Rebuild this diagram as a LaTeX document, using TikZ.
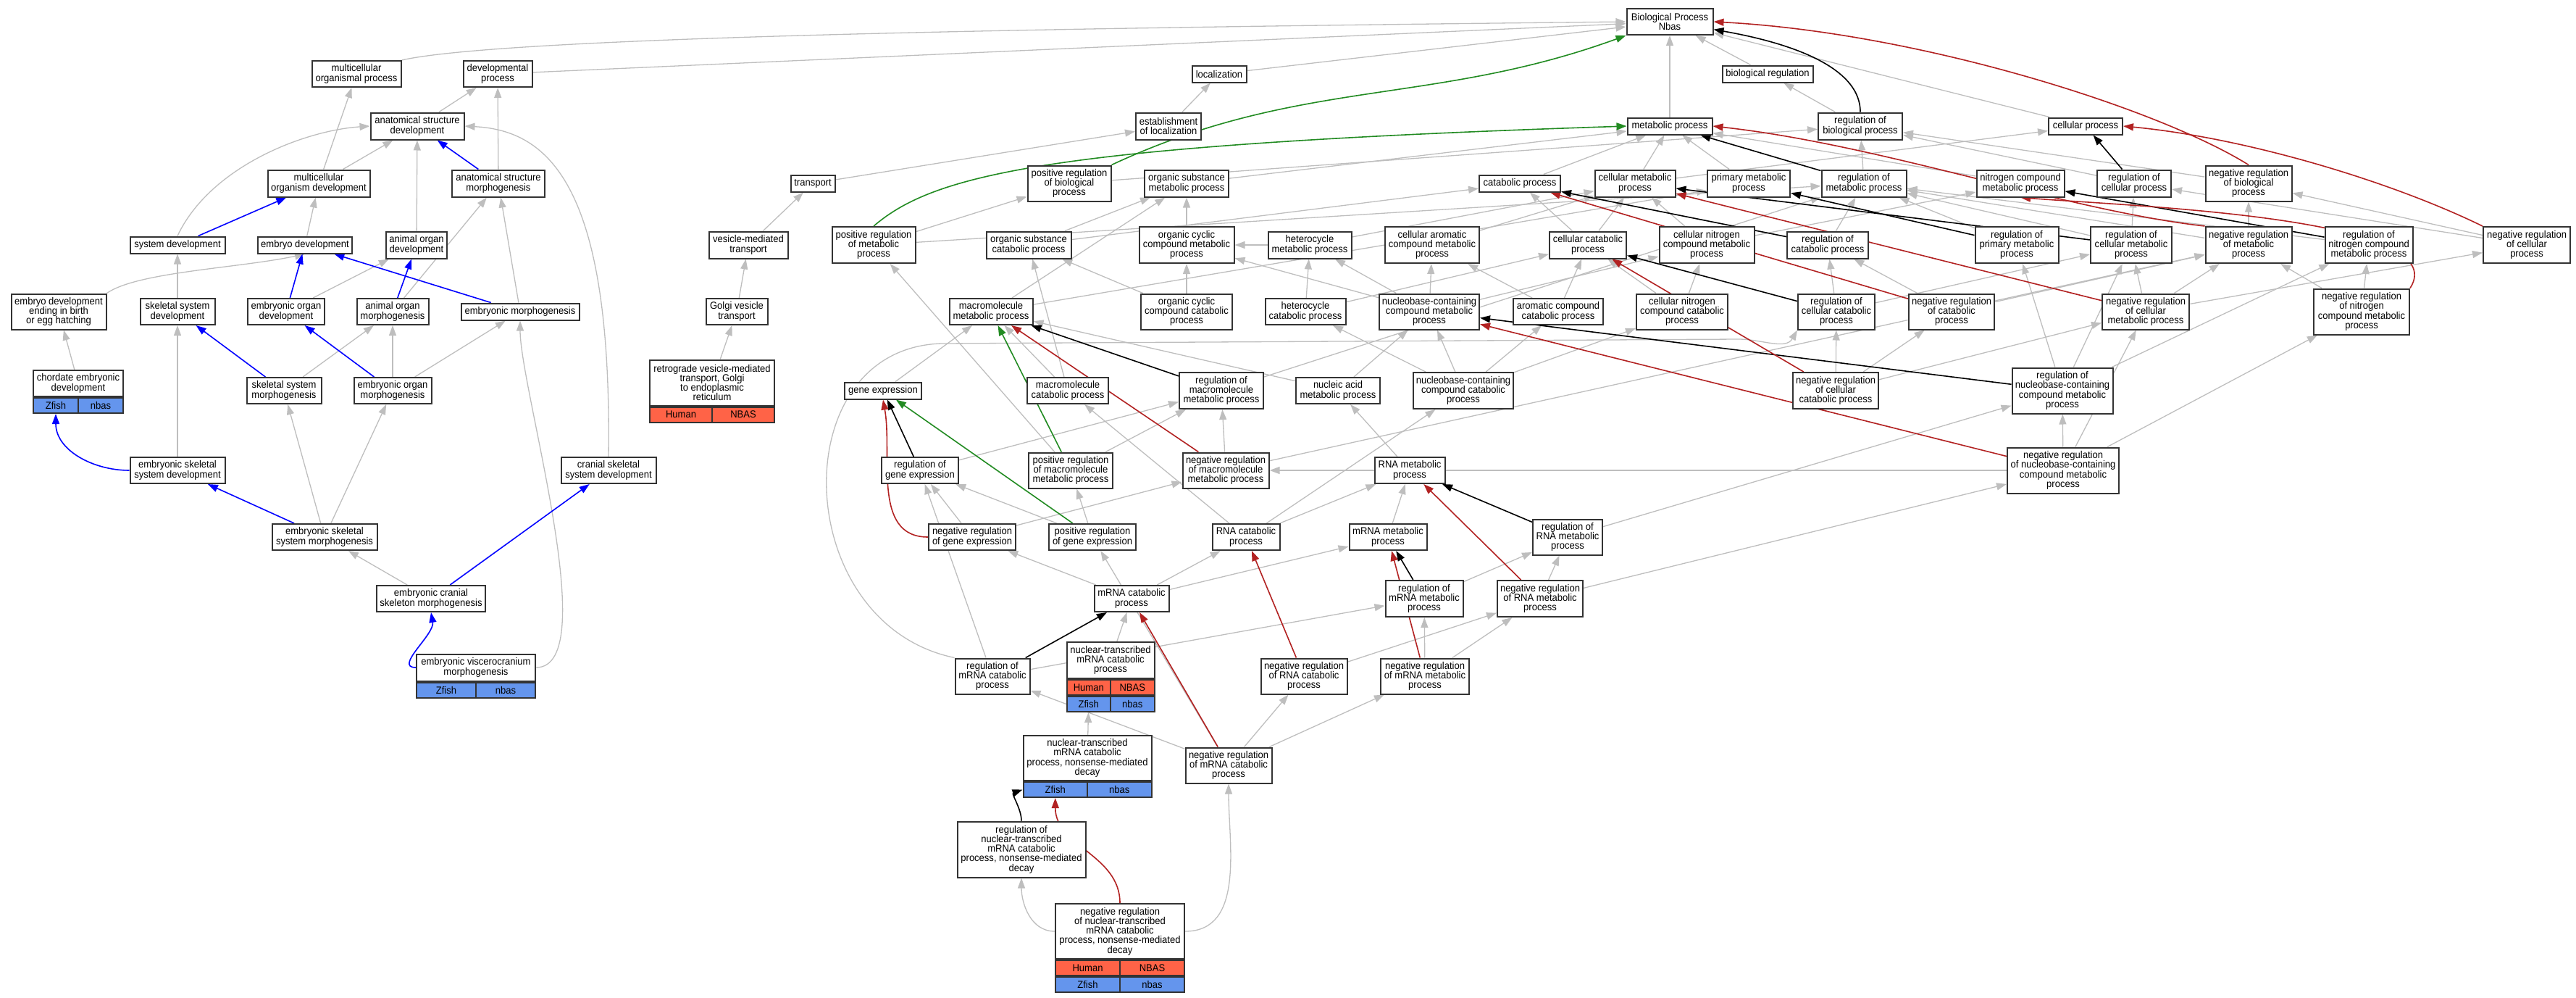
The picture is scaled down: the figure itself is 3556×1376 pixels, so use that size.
\documentclass[tikz,border=0pt]{standalone}
\usepackage{fontspec}
\setmainfont{Liberation Sans}[FakeStretch=0.93]
\usetikzlibrary{arrows.meta,positioning,backgrounds}
\definecolor{isagray}{RGB}{190,190,190}
\definecolor{negred}{RGB}{178,34,34}
\definecolor{posgreen}{RGB}{34,139,34}
\definecolor{humanred}{RGB}{255,99,71}
\definecolor{zfishblue}{RGB}{100,149,237}

\begin{document}
\begin{tikzpicture}[x=1pt,y=-1pt,
    >={Triangle[length=14pt,width=10pt]},
    every node/.style={font=\fontsize{14}{13.3}\selectfont},
    term/.style 2 args={draw=black!80, line width=2pt, fill=white, align=center,
      inner sep=0pt, minimum width=#1, minimum height=#2},
    hcell/.style={draw=black!80, line width=2pt, fill=humanred, inner sep=0pt,
      minimum width=#1, minimum height=21},
    zcell/.style={draw=black!80, line width=2pt, fill=zfishblue, inner sep=0pt,
      minimum width=#1, minimum height=21},
    isa/.style={->, draw=isagray, line width=1.3pt},
    partof/.style={->, draw=blue, line width=1.6pt},
    reg/.style={->, draw=black, line width=1.6pt},
    posreg/.style={->, draw=posgreen, line width=1.6pt},
    negreg/.style={->, draw=negred, line width=1.6pt}]
  \useasboundingbox (0,0) rectangle (3556,1376);

  % development branch
  \node[term={123}{36}] (mop) at (492,102) {multicellular\\organismal process};
  \node[term={95}{36}] (devp) at (687,102) {developmental\\process};
  \node[term={129}{37}] (asd) at (576,174) {anatomical structure\\development};
  \node[term={141}{37}] (mod) at (440,253) {multicellular\\organism development};
  \node[term={128}{37}] (asm) at (688,253) {anatomical structure\\morphogenesis};
  \node[term={131}{23}] (sysd) at (245,338) {system development};
  \node[term={130}{23}] (embd) at (421,338) {embryo development};
  \node[term={84}{37}] (aod) at (575,338) {animal organ\\development};
  \node[term={131}{49}] (edeb) at (81,430) {embryo development\\ending in birth\\or egg hatching};
  \node[term={103}{36}] (ssd) at (245,430) {skeletal system\\development};
  \node[term={106}{36}] (eod) at (395,430) {embryonic organ\\development};
  \node[term={99}{36}] (aom) at (542,430) {animal organ\\morphogenesis};
  \node[term={163}{23}] (emm) at (718,430) {embryonic morphogenesis};
  \node[term={124}{36}] (ced) at (108,529) {chordate embryonic\\development};
  \node[zcell=62, anchor=north west] (cedZ) at (ced.south west) {Zfish};
  \node[zcell=62, anchor=north east] (cedN) at (ced.south east) {nbas};
  \node[term={103}{36}] (ssm) at (392,539) {skeletal system\\morphogenesis};
  \node[term={107}{36}] (eom) at (542,539) {embryonic organ\\morphogenesis};
  \node[term={131}{36}] (essd) at (245,649) {embryonic skeletal\\system development};
  \node[term={131}{36}] (cssd) at (840,649) {cranial skeletal\\system development};
  \node[term={145}{36}] (essm) at (448,741) {embryonic skeletal\\system morphogenesis};
  \node[term={150}{36}] (ecsm) at (595,826) {embryonic cranial\\skeleton morphogenesis};
  \node[term={164}{37}] (evm) at (657,921) {embryonic viscerocranium\\morphogenesis};
  \node[zcell=82, anchor=north west] (evmZ) at (evm.south west) {Zfish};
  \node[zcell=82, anchor=north east] (evmN) at (evm.south east) {nbas};

  % transport branch
  \node[term={75}{23}] (loc) at (1683,102) {localization};
  \node[term={90}{37}] (eol) at (1613,174) {establishment\\of localization};
  \node[term={61}{23}] (trn) at (1122,253) {transport};
  \node[term={109}{37}] (vmt) at (1033,338) {vesicle-mediated\\transport};
  \node[term={85}{36}] (gvt) at (1017,430) {Golgi vesicle\\transport};
  \node[term={172}{63}] (rvt) at (983,528) {retrograde vesicle-mediated\\transport, Golgi\\to endoplasmic\\reticulum};
  \node[hcell=86, anchor=north west] (rvtH) at (rvt.south west) {Human};
  \node[hcell=86, anchor=north east] (rvtN) at (rvt.south east) {NBAS};

  % metabolic branch
  \node[term={119}{36}] (bp) at (2305,30) {Biological Process\\Nbas};
  \node[term={125}{23}] (breg) at (2440,102) {biological regulation};
  \node[term={117}{23}] (mp) at (2305,174) {metabolic process};
  \node[term={116}{37}] (rbp) at (2568,174) {regulation of\\biological process};
  \node[term={102}{23}] (cellp) at (2879,174) {cellular process};
  \node[term={115}{49}] (prbp) at (1476,253) {positive regulation\\of biological\\process};
  \node[term={116}{37}] (osmp) at (1638,253) {organic substance\\metabolic process};
  \node[term={112}{23}] (cp) at (2098,253) {catabolic process};
  \node[term={111}{37}] (cmp) at (2257,253) {cellular metabolic\\process};
  \node[term={114}{37}] (pmp) at (2414,253) {primary metabolic\\process};
  \node[term={117}{37}] (rmp) at (2573,253) {regulation of\\metabolic process};
  \node[term={121}{37}] (nitcmp) at (2789,253) {nitrogen compound\\metabolic process};
  \node[term={102}{37}] (rcellp) at (2946,253) {regulation of\\cellular process};
  \node[term={119}{49}] (nrbp) at (3104,253) {negative regulation\\of biological\\process};
  \node[term={115}{50}] (prmp) at (1206,338) {positive regulation\\of metabolic\\process};
  \node[term={117}{37}] (oscp) at (1420,338) {organic substance\\catabolic process};
  \node[term={131}{50}] (occmp) at (1638,338) {organic cyclic\\compound metabolic\\process};
  \node[term={115}{37}] (hmp) at (1808,338) {heterocycle\\metabolic process};
  \node[term={130}{50}] (cacmp) at (1977,338) {cellular aromatic\\compound metabolic\\process};
  \node[term={106}{37}] (ccp) at (2192,338) {cellular catabolic\\process};
  \node[term={131}{50}] (cncmp) at (2356,338) {cellular nitrogen\\compound metabolic\\process};
  \node[term={112}{37}] (rcp) at (2523,338) {regulation of\\catabolic process};
  \node[term={115}{50}] (rpmp) at (2784,338) {regulation of\\primary metabolic\\process};
  \node[term={112}{50}] (rcmp) at (2942,338) {regulation of\\cellular metabolic\\process};
  \node[term={119}{50}] (nrmp) at (3104,338) {negative regulation\\of metabolic\\process};
  \node[term={121}{50}] (rncmp) at (3270,338) {regulation of\\nitrogen compound\\metabolic process};
  \node[term={120}{50}] (nrcp) at (3488,338) {negative regulation\\of cellular\\process};
  \node[term={115}{36}] (mmp) at (1368,430) {macromolecule\\metabolic process};
  \node[term={126}{49}] (occcp) at (1638,430) {organic cyclic\\compound catabolic\\process};
  \node[term={111}{36}] (hcp) at (1802,430) {heterocycle\\catabolic process};
  \node[term={138}{49}] (ncmp) at (1973,430) {nucleobase-containing\\compound metabolic\\process};
  \node[term={124}{36}] (accp) at (2151,430) {aromatic compound\\catabolic process};
  \node[term={126}{49}] (cnccp) at (2322,430) {cellular nitrogen\\compound catabolic\\process};
  \node[term={106}{49}] (rccp) at (2535,430) {regulation of\\cellular catabolic\\process};
  \node[term={118}{49}] (nrcatp) at (2694,430) {negative regulation\\of catabolic\\process};
  \node[term={120}{49}] (nrcmp) at (2962,430) {negative regulation\\of cellular\\metabolic process};
  \node[term={132}{63}] (nrncmp) at (3260,430) {negative regulation\\of nitrogen\\compound metabolic\\process};
  \node[term={106}{23}] (gexp) at (1219,539) {gene expression};
  \node[term={112}{36}] (mcp) at (1474,539) {macromolecule\\catabolic process};
  \node[term={116}{50}] (rmmp) at (1686,539) {regulation of\\macromolecule\\metabolic process};
  \node[term={116}{36}] (namp) at (1847,539) {nucleic acid\\metabolic process};
  \node[term={138}{50}] (nccp) at (2020,539) {nucleobase-containing\\compound catabolic\\process};
  \node[term={118}{50}] (nrccp) at (2534,539) {negative regulation\\of cellular\\catabolic process};
  \node[term={139}{63}] (rnccmp) at (2847,539) {regulation of\\nucleobase-containing\\compound metabolic\\process};
  \node[term={106}{36}] (rge) at (1270,649) {regulation of\\gene expression};
  \node[term={116}{49}] (prmmp) at (1478,649) {positive regulation\\of macromolecule\\metabolic process};
  \node[term={119}{49}] (nrmmp) at (1692,649) {negative regulation\\of macromolecule\\metabolic process};
  \node[term={97}{36}] (rnamp) at (1946,649) {RNA metabolic\\process};
  \node[term={154}{63}] (nrnccmp) at (2848,649) {negative regulation\\of nucleobase-containing\\compound metabolic\\process};
  \node[term={120}{36}] (nrge) at (1342,741) {negative regulation\\of gene expression};
  \node[term={120}{36}] (prge) at (1508,741) {positive regulation\\of gene expression};
  \node[term={93}{36}] (rnacp) at (1720,741) {RNA catabolic\\process};
  \node[term={107}{36}] (mrnamp) at (1916,741) {mRNA metabolic\\process};
  \node[term={96}{49}] (rrnamp) at (2164,741) {regulation of\\RNA metabolic\\process};
  \node[term={103}{36}] (mrnacp) at (1562,826) {mRNA catabolic\\process};
  \node[term={107}{50}] (rmrnamp) at (1966,826) {regulation of\\mRNA metabolic\\process};
  \node[term={118}{50}] (nrrnamp) at (2126,826) {negative regulation\\of RNA metabolic\\process};
  \node[term={121}{50}] (ntmcp) at (1533,911) {nuclear-transcribed\\mRNA catabolic\\process};
  \node[hcell=60.5, anchor=north west] (ntmcpH) at (ntmcp.south west) {Human};
  \node[hcell=60.5, anchor=north east] (ntmcpN) at (ntmcp.south east) {NBAS};
  \node[zcell=60.5, anchor=north west] (ntmcpZ) at (ntmcpH.south west) {Zfish};
  \node[zcell=60.5, anchor=north east] (ntmcpB) at (ntmcpN.south east) {nbas};
  \node[term={103}{49}] (rmcp) at (1370,933) {regulation of\\mRNA catabolic\\process};
  \node[term={119}{49}] (nrrcp) at (1800,933) {negative regulation\\of RNA catabolic\\process};
  \node[term={122}{49}] (nrmrnamp) at (1967,933) {negative regulation\\of mRNA metabolic\\process};
  \node[term={177}{62}] (nmd) at (1501,1046) {nuclear-transcribed\\mRNA catabolic\\process, nonsense-mediated\\decay};
  \node[zcell=88.5, anchor=north west] (nmdZ) at (nmd.south west) {Zfish};
  \node[zcell=88.5, anchor=north east] (nmdN) at (nmd.south east) {nbas};
  \node[term={119}{49}] (nrmcp) at (1696,1056) {negative regulation\\of mRNA catabolic\\process};
  \node[term={177}{77}] (rnmd) at (1410,1172) {regulation of\\nuclear-transcribed\\mRNA catabolic\\process, nonsense-mediated\\decay};
  \node[term={178}{76}] (nrnmd) at (1546,1285) {negative regulation\\of nuclear-transcribed\\mRNA catabolic\\process, nonsense-mediated\\decay};
  \node[hcell=89, anchor=north west] (nrnmdH) at (nrnmd.south west) {Human};
  \node[hcell=89, anchor=north east] (nrnmdN) at (nrnmd.south east) {NBAS};
  \node[zcell=89, anchor=north west] (nrnmdZ) at (nrnmdH.south west) {Zfish};
  \node[zcell=89, anchor=north east] (nrnmdB) at (nrnmdN.south east) {nbas};

  \begin{scope}[on background layer]
    % is_a
    \foreach \a/\b in {ssd/sysd, eod/aod, aom/asm, ced/edeb, ssm/aom, eom/aom, eom/emm,
        essd/ssd, essm/ssm, essm/eom, ecsm/essm, embd/mod, mod/mop, mod/asd, asm/devp,
        asd/devp, aod/asd, emm/asm, devp/bp,
        loc/bp, eol/loc, trn/eol, vmt/trn, gvt/vmt, rvt/gvt,
        mp/bp, breg/bp, cellp/bp, rbp/breg, prbp/rbp, nrbp/rbp, osmp/mp, cp/mp, cmp/mp,
        cmp/cellp, pmp/mp, nitcmp/mp, rmp/rbp, rcellp/rbp, prmp/rmp, prmp/prbp,
        oscp/osmp, oscp/cp, occmp/osmp, hmp/cmp, hmp/occmp, cacmp/cmp, ccp/cp, ccp/cmp,
        cncmp/cmp, cncmp/nitcmp, rcp/rmp, rpmp/rmp, rcmp/rmp, rcmp/rcellp, nrmp/rmp,
        nrmp/nrbp, rncmp/rmp, nrcp/rcellp, nrcp/nrbp,
        mmp/osmp, mmp/pmp, occcp/occmp, occcp/oscp, hcp/hmp, hcp/ccp, ncmp/hmp,
        ncmp/cacmp, ncmp/cncmp, ncmp/occmp, accp/cacmp, accp/ccp, cnccp/cncmp, cnccp/ccp,
        rccp/rcp, rccp/rcmp, nrcatp/rcp, nrcatp/nrmp, nrcmp/rcmp, nrcmp/nrmp, nrcmp/nrcp,
        nrncmp/rncmp, nrncmp/nrmp,
        gexp/mmp, mcp/mmp, mcp/oscp, rmmp/rmp, namp/ncmp, namp/mmp, nccp/ncmp, nccp/accp,
        nccp/cnccp, nccp/hcp, rnccmp/rpmp, rnccmp/rcmp, rnccmp/rncmp, nrccp/rccp,
        nrccp/nrcatp, nrccp/nrcmp,
        rge/rmmp, prmmp/rmmp, prmmp/prmp, nrmmp/rmmp, nrmmp/nrmp, rnamp/namp,
        nrnccmp/rnccmp, nrnccmp/nrncmp, nrnccmp/nrcmp, nrnccmp/nrmmp,
        nrge/rge, nrge/nrmmp, prge/rge, prge/prmmp, rnacp/rnamp, rnacp/mcp, rnacp/nccp,
        mrnamp/rnamp, rrnamp/rnccmp, mrnacp/rnacp, mrnacp/mrnamp, mrnacp/nrge,
        rmrnamp/rrnamp, nrrnamp/rrnamp, nrrnamp/nrnccmp, ntmcp/mrnacp, rmcp/rge,
        rmcp/rmrnamp, nrrcp/nrrnamp, nrmrnamp/rmrnamp, nrmrnamp/nrrnamp,
        nrmcp/rmcp, nrmcp/nrrcp, nrmcp/nrmrnamp, nrmcp/prge, nmd/ntmcpZ}
      \draw[isa] (\a) -- (\b);
    \draw[isa] (mop.north east) .. controls (700,50) and (1500,38) .. (bp.west);
    \draw[isa] (edeb.north east) .. controls (190,375) and (330,370) .. (embd.south);
    \draw[isa] (sysd.north) .. controls (290,230) and (420,180) .. (asd.west);
    \draw[isa] (cssd.north) .. controls (845,260) and (760,180) .. (asd.east);
    \draw[isa] (evm.east) to[out=0,in=-90,looseness=0.5] (emm.south);
    \draw[isa] (rmcp.north west) .. controls (1090,860) and (1080,480) .. (1300,474)
      -- (2400,468) to[out=0,in=240] (rccp.south west);
    \draw[isa] (nrnmd.west) to[out=180,in=-90] (rnmd.south);
    \draw[isa] (nrnmd.east) to[out=0,in=-90] (nrmcp.south);

    % part_of
    \foreach \a/\b in {asm/asd, sysd/mod, eod/embd, emm/embd, aom/aod, ssm/ssd, eom/eod,
        essm/essd, ecsm/cssd}
      \draw[partof] (\a) -- (\b);
    \draw[partof] (essd.west) to[out=180,in=-90] (cedZ.south);
    \draw[partof] (evm.west) to[out=180,in=-80] (ecsm.south);

    % regulates
    \foreach \a/\b in {rmp/mp, rcellp/cellp, rcp/cp, rpmp/pmp, rcmp/cmp, rncmp/nitcmp,
        rccp/ccp, rmmp/mmp, rnccmp/ncmp, rge/gexp, rrnamp/rnamp, rmrnamp/mrnamp,
        rmcp/mrnacp}
      \draw[reg] (\a) -- (\b);
    \draw[reg] (rbp.north) to[out=90,in=-10,looseness=0.8] (bp.-10);
    \draw[reg] (rnmd.north) to[out=90,in=200] (nmdZ.west);

    % positively regulates
    \foreach \a/\b in {prmmp/mmp, prge/gexp}
      \draw[posreg] (\a) -- (\b);
    \draw[posreg] (prbp.north east) to[out=25,in=200] (bp.south west);
    \draw[posreg] (prmp.north) .. controls (1290,240) and (1450,200) .. (mp.west);

    % negatively regulates
    \foreach \a/\b in {nrcatp/cp, nrcmp/cmp, nrccp/ccp, nrmmp/mmp, nrnccmp/ncmp,
        nrrnamp/rnamp, nrrcp/rnacp, nrmrnamp/mrnamp, nrmcp/mrnacp}
      \draw[negreg] (\a) -- (\b);
    \draw[negreg] (nrbp.north) .. controls (2980,150) and (2650,45) .. (bp.east);
    \draw[negreg] (nrcp.north west) .. controls (3300,250) and (3100,190) .. (cellp.east);
    \draw[negreg] (nrmp.north west) .. controls (2850,290) and (2600,200) .. (mp.east);
    \draw[negreg] (nrncmp.north east) .. controls (3390,300) and (2950,285) .. (nitcmp.south);
    \draw[negreg] (nrge.west) to[out=180,in=-80] (gexp.south);
    \draw[negreg] (nrnmd.north) to[out=90,in=-90] (nmdZ.south);
  \end{scope}
\end{tikzpicture}
\end{document}
